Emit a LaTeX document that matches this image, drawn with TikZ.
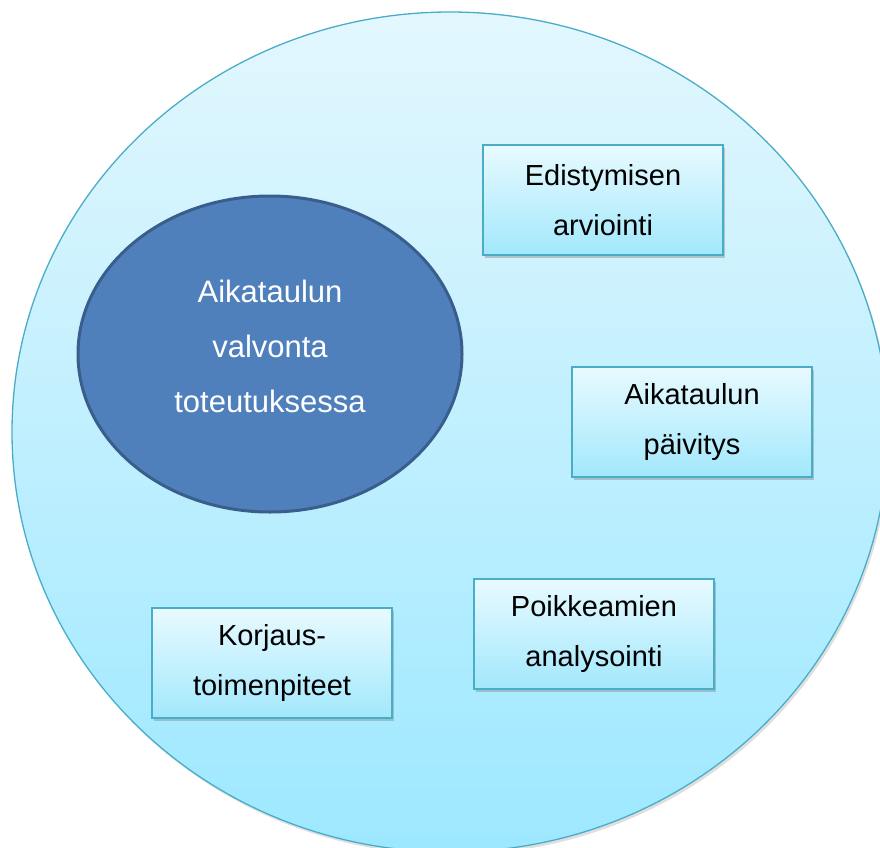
\documentclass[tikz,border=0pt]{standalone}
\usepackage{fontspec}
\setmainfont{Liberation Sans}
\usetikzlibrary{shapes.geometric,shadows}
\definecolor{outerline}{HTML}{4AADC8}
\definecolor{outertop}{HTML}{E3F7FE}
\definecolor{outerbot}{HTML}{9DE8FF}
\definecolor{innerfill}{HTML}{4F80BC}
\definecolor{innerline}{HTML}{3A5E8C}
\definecolor{boxtop}{HTML}{E8FAFF}
\definecolor{boxbot}{HTML}{A2E8FC}
\tikzset{
  outer/.style={ellipse, draw=outerline, line width=1.3pt, top color=outertop, bottom color=outerbot,
    minimum width=876pt, minimum height=840pt, inner sep=0pt,
    drop shadow={shadow xshift=2pt, shadow yshift=-3pt, opacity=0.25}},
  inner/.style={ellipse, draw=innerline, line width=3pt, fill=innerfill,
    minimum width=384pt, minimum height=316pt, inner sep=0pt},
  innertext/.style={text=white, align=center, font=\fontsize{31}{55}\selectfont},
  stepbox/.style={rectangle, draw=outerline, line width=1.3pt, top color=boxtop, bottom color=boxbot,
    minimum width=240pt, minimum height=110pt, inner sep=0pt, align=center,
    font=\fontsize{29}{50}\selectfont, text=black,
    drop shadow={shadow xshift=1.5pt, shadow yshift=-3pt, opacity=0.4}}
}
\begin{document}
\begin{tikzpicture}[x=1pt,y=-1pt]
\useasboundingbox (0,0) rectangle (880,847);
\node[outer] (outer) at (450,432) {};
\node[inner] (core) at (270,354) {};
\node[innertext] (coretext) at (270,346) {Aikataulun\\valvonta\\toteutuksessa};
\node[stepbox] (edist) at (603,200) {Edistymisen\\arviointi};
\node[stepbox] (paiv) at (692,422) {Aikataulun\\päivitys};
\node[stepbox] (poik) at (594,634) {Poikkeamien\\analysointi};
\node[stepbox] (korj) at (272,663) {Korjaus-\\toimenpiteet};
\end{tikzpicture}
\end{document}
